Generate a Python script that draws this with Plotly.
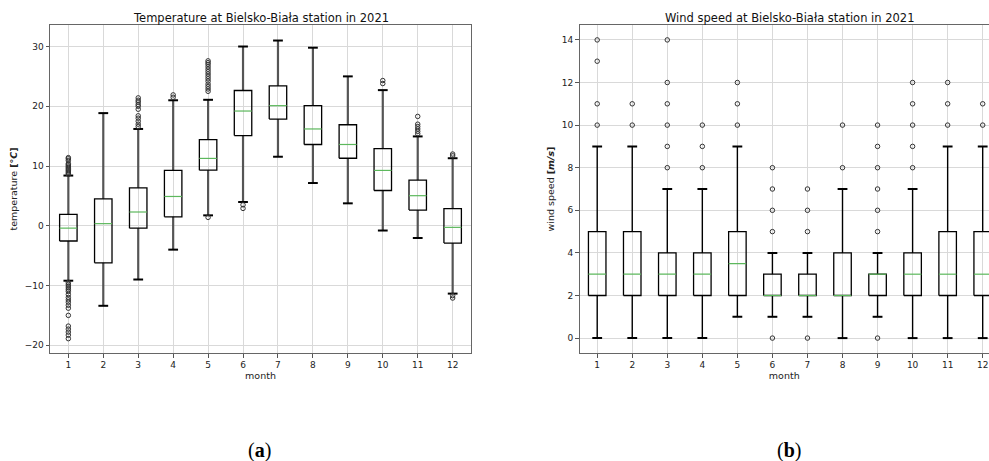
import plotly.graph_objects as go

months = list(range(1, 13))

# Temperature box statistics (°C)
t_q1 = [-2.55, -6.2, -0.4, 1.5, 9.3, 15.1, 17.85, 13.6, 11.3, 5.9, 2.63, -2.9]
t_med = [-0.4, 0.35, 2.3, 4.9, 11.27, 19.2, 20.1, 16.2, 13.6, 9.26, 5.03, -0.27]
t_q3 = [1.9, 4.5, 6.35, 9.26, 14.4, 22.64, 23.4, 20.1, 16.9, 12.9, 7.65, 2.85]
t_lo = [-9.2, -13.4, -9.0, -4.0, 1.74, 3.97, 11.55, 7.15, 3.75, -0.8, -2.05, -11.36]
t_hi = [8.4, 18.85, 16.2, 21.0, 21.08, 30.0, 31.0, 29.8, 25.0, 22.7, 14.95, 11.3]
t_out = [
    [8.6, 8.8, 9.0, 9.2, 9.4, 9.6, 9.8, 10.0, 10.2, 10.4, 10.9, 11.2, 11.4,
     -9.5, -9.8, -10.1, -10.4, -10.7, -11.0, -11.5, -12.0, -12.4, -12.8, -13.3,
     -13.8, -15.0, -16.8, -17.3, -17.8, -18.3, -18.9],
    [],
    [16.6, 17.0, 17.5, 18.0, 18.4, 19.5, 20.0, 20.3, 20.7, 21.0, 21.4],
    [21.5, 21.9],
    [22.5, 22.9, 23.3, 23.7, 24.2, 24.6, 25.0, 25.4, 25.8, 26.2, 26.6, 27.0,
     27.3, 27.6, 1.4],
    [3.5, 2.9],
    [],
    [],
    [],
    [23.8, 24.3],
    [15.4, 15.8, 16.2, 16.6, 17.0, 18.3],
    [11.7, 12.0, -11.7, -12.1],
]

# Wind speed box statistics (m/s)
w_q1 = [2, 2, 2, 2, 2, 2, 2, 2, 2, 2, 2, 2]
w_med = [3, 3, 3, 3, 3.5, 2, 2, 2, 3, 3, 3, 3]
w_q3 = [5, 5, 4, 4, 5, 3, 3, 4, 3, 4, 5, 5]
w_lo = [0, 0, 0, 0, 1, 1, 1, 0, 1, 0, 0, 0]
w_hi = [9, 9, 7, 7, 9, 4, 4, 7, 4, 7, 9, 9]
w_out = [
    [10, 11, 13, 14],
    [10, 11],
    [8, 9, 10, 11, 12, 14],
    [8, 9, 10],
    [10, 11, 12],
    [0, 5, 6, 7, 8],
    [0, 5, 6, 7],
    [8, 10],
    [0, 5, 6, 7, 8, 9, 10],
    [8, 9, 10, 11, 12],
    [10, 11, 12],
    [10, 11],
]

FONT = "DejaVu Sans"
BOX_W = 0.5
HALF = BOX_W / 2
CAP = 0.14
MED_COLOR = "#5cb85c"

fig = go.Figure()


def add_panel(xa, ya, q1, med, q3, lo, hi, outs, whisk_color, whisk_w):
    bx, by, wx, wy, cx, cy, mx, my = [], [], [], [], [], [], [], []
    for i, m in enumerate(months):
        bx += [m - HALF, m + HALF, m + HALF, m - HALF, m - HALF, None]
        by += [q1[i], q1[i], q3[i], q3[i], q1[i], None]
        wx += [m, m, None, m, m, None]
        wy += [lo[i], q1[i], None, q3[i], hi[i], None]
        cx += [m - CAP, m + CAP, None, m - CAP, m + CAP, None]
        cy += [lo[i], lo[i], None, hi[i], hi[i], None]
        mx += [m - HALF, m + HALF, None]
        my += [med[i], med[i], None]
    fig.add_trace(go.Scatter(x=wx, y=wy, mode="lines",
                             line=dict(color=whisk_color, width=whisk_w),
                             xaxis=xa, yaxis=ya, showlegend=False, hoverinfo="skip"))
    fig.add_trace(go.Scatter(x=bx, y=by, mode="lines",
                             line=dict(color="black", width=1.3),
                             xaxis=xa, yaxis=ya, showlegend=False, hoverinfo="skip"))
    fig.add_trace(go.Scatter(x=cx, y=cy, mode="lines",
                             line=dict(color="black", width=2),
                             xaxis=xa, yaxis=ya, showlegend=False, hoverinfo="skip"))
    fig.add_trace(go.Scatter(x=mx, y=my, mode="lines",
                             line=dict(color=MED_COLOR, width=1.2),
                             xaxis=xa, yaxis=ya, showlegend=False, hoverinfo="skip"))
    # outliers
    ox, oy = [], []
    for i, m in enumerate(months):
        for v in outs[i]:
            ox.append(m)
            oy.append(v)
    fig.add_trace(go.Scatter(x=ox, y=oy, mode="markers",
                             marker=dict(symbol="circle-open", size=4.5,
                                         color="#333", line=dict(width=1)),
                             xaxis=xa, yaxis=ya, showlegend=False, hoverinfo="skip"))


add_panel("x", "y", t_q1, t_med, t_q3, t_lo, t_hi, t_out, "#555", 2.2)
add_panel("x2", "y2", w_q1, w_med, w_q3, w_lo, w_hi, w_out, "black", 1.4)

W, H = 989, 461
axis_common = dict(
    showgrid=True, gridcolor="#d9d9d9", gridwidth=1, zeroline=False,
    showline=True, linecolor="#666", linewidth=1,
    ticks="outside", ticklen=3.5, tickcolor="#555", tickwidth=1,
    tickfont=dict(family=FONT, size=9, color="#222"),
)

fig.update_layout(
    width=W, height=H, margin=dict(l=0, r=0, t=0, b=0),
    paper_bgcolor="white", plot_bgcolor="white",
    font=dict(family=FONT, size=9, color="#222"),
    xaxis=dict(domain=[50 / W, 471 / W], range=[0.475, 12.525],
               tickvals=months, mirror=True,
               title=dict(text="month", font=dict(size=9.5), standoff=0),
               **axis_common),
    yaxis=dict(domain=[1 - 353 / H, 1 - 25 / H], range=[-21.3, 33.6],
               dtick=10, mirror=True,
               title=dict(text="temperature <b>[°<i>C</i>]</b>",
                          font=dict(size=9.5), standoff=5),
               **axis_common),
    xaxis2=dict(domain=[579.5 / W, 1.0], range=[0.495, 12.18],
                tickvals=months, mirror=True, anchor="y2",
                title=dict(text="month", font=dict(size=9.5), standoff=0),
                **axis_common),
    yaxis2=dict(domain=[1 - 353 / H, 1 - 25 / H], range=[-0.7, 14.7],
                dtick=2, mirror=False, anchor="x2",
                title=dict(text="wind speed <b>[<i>m/s</i>]</b>",
                           font=dict(size=9.5), standoff=5),
                **axis_common),
    annotations=[
        dict(text="Temperature at Bielsko-Biała station in 2021",
             x=260.5 / W, y=1 - 18 / H, xref="paper", yref="paper",
             xanchor="center", yanchor="middle", showarrow=False,
             font=dict(family=FONT, size=11.5, color="#111")),
        dict(text="Wind speed at Bielsko-Biała station in 2021",
             x=790 / W, y=1 - 18 / H, xref="paper", yref="paper",
             xanchor="center", yanchor="middle", showarrow=False,
             font=dict(family=FONT, size=11.5, color="#111")),
        dict(text="(<b>a</b>)", x=259 / W, y=1 - 450 / H, xref="paper",
             yref="paper", xanchor="center", yanchor="middle", showarrow=False,
             font=dict(family="Liberation Serif", size=20, color="black")),
        dict(text="(<b>b</b>)", x=789 / W, y=1 - 450 / H, xref="paper",
             yref="paper", xanchor="center", yanchor="middle", showarrow=False,
             font=dict(family="Liberation Serif", size=20, color="black")),
    ],
)

fig.write_html("out.html")
